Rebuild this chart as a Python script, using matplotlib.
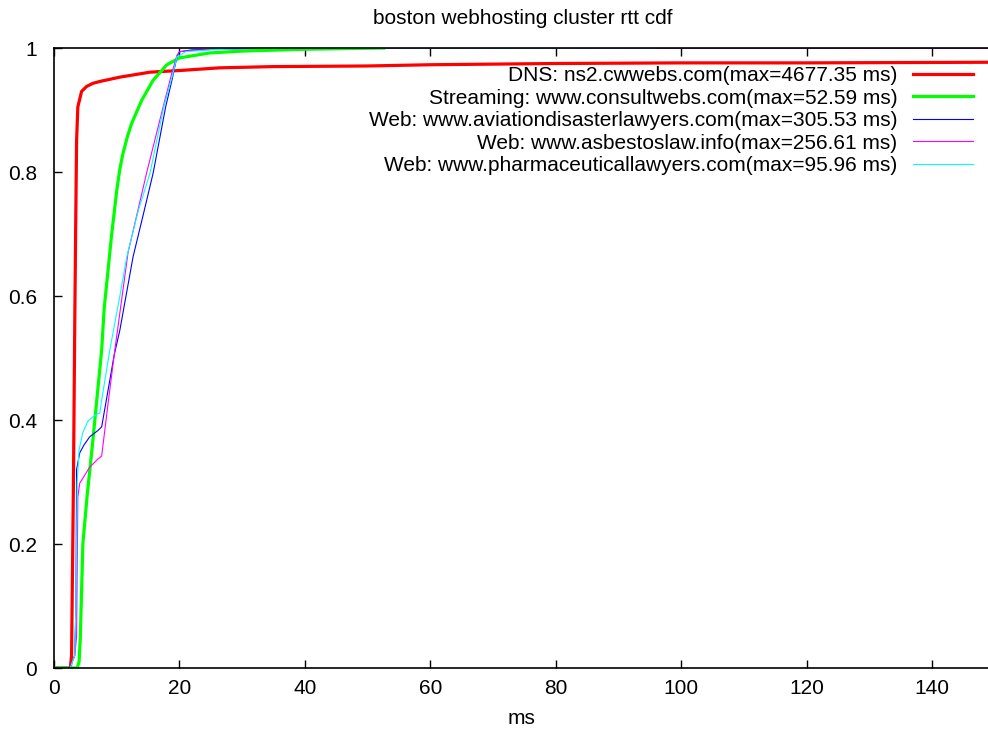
import numpy as np
import matplotlib
matplotlib.use('Agg')
import matplotlib.pyplot as plt

plt.rcParams['font.family'] = ['Liberation Sans', 'DejaVu Sans']

# DNS: ns2.cwwebs.com
dns_x = [0, 2.6, 2.8, 3.1, 3.3, 3.45, 3.6, 3.8, 4.4, 5.2, 6.2, 7.3, 10.5, 15.3, 20.5, 26.4,
         35, 50, 60, 80, 100, 120, 148.9]
dns_y = [0, 0, 0.02, 0.3, 0.545, 0.706, 0.85, 0.905, 0.93, 0.938, 0.943, 0.946, 0.953, 0.961,
         0.964, 0.968, 0.970, 0.971, 0.973, 0.975, 0.976, 0.976, 0.977]

# Streaming: www.consultwebs.com
str_x = [0, 3.7, 4.0, 4.2, 4.6, 5.3, 6.05, 6.8, 7.6, 8.0, 8.6, 9.2, 10.0, 10.5, 11.0, 11.7,
         12.4, 14.0, 15.8, 18.0, 20.0, 24.8, 30, 40, 52.59]
str_y = [0, 0, 0.01, 0.05, 0.2, 0.28, 0.352, 0.43, 0.513, 0.58, 0.64, 0.7, 0.77, 0.805, 0.83,
         0.857, 0.879, 0.916, 0.948, 0.973, 0.984, 0.992, 0.995, 0.998, 1.0]

# Web: www.aviationdisasterlawyers.com
avi_x = [0, 2.5, 3.3, 3.5, 3.6, 4.1, 4.8, 5.7, 7.0, 7.6, 9.6, 10.5, 12.6, 14.2, 15.8, 17.8,
         18.8, 19.6, 20, 22, 26, 30, 40, 60, 148.9]
avi_y = [0, 0, 0.02, 0.1, 0.32, 0.347, 0.36, 0.373, 0.383, 0.389, 0.505, 0.545, 0.663, 0.73,
         0.798, 0.905, 0.948, 0.986, 0.994, 0.997, 0.998, 0.999, 1.0, 1.0, 1.0]

# Web: www.asbestoslaw.info
asb_x = [0, 2.5, 3.3, 3.6, 3.8, 4.1, 5.7, 7.0, 7.6, 8.6, 9.7, 11.8, 14.8, 17.4, 18.8, 19.6,
         20, 22, 26, 30, 40, 60, 148.9]
asb_y = [0, 0, 0.02, 0.05, 0.276, 0.298, 0.324, 0.337, 0.342, 0.425, 0.513, 0.67, 0.8, 0.905,
         0.96, 0.988, 0.994, 0.996, 0.998, 0.999, 1.0, 1.0, 1.0]

# Web: www.pharmaceuticallawyers.com
pha_x = [0, 2.6, 3.3, 3.5, 3.7, 4.0, 4.6, 5.4, 6.2, 7.0, 7.3, 7.6, 8.9, 10.5, 11.6, 13.5,
         15.3, 17.5, 19.0, 19.6, 21, 25, 30, 40, 95.96]
pha_y = [0, 0, 0.02, 0.1, 0.3, 0.352, 0.38, 0.398, 0.405, 0.41, 0.411, 0.432, 0.513, 0.6,
         0.663, 0.74, 0.798, 0.905, 0.96, 0.986, 0.994, 0.997, 0.999, 1.0, 1.0]

labels = ['DNS: ns2.cwwebs.com(max=4677.35 ms)',
          'Streaming: www.consultwebs.com(max=52.59 ms)',
          'Web: www.aviationdisasterlawyers.com(max=305.53 ms)',
          'Web: www.asbestoslaw.info(max=256.61 ms)',
          'Web: www.pharmaceuticallawyers.com(max=95.96 ms)']

fig = plt.figure(figsize=(9.88, 7.34), dpi=100)
ax = fig.add_axes([54 / 988, 66 / 734, 1 - 54 / 988, 620 / 734])

ax.plot(dns_x, dns_y, color='#ff0000', lw=2.3, label=labels[0])
ax.plot(str_x, str_y, color='#00ff00', lw=2.3, label=labels[1])
ax.plot(avi_x, avi_y, color='#0000ff', lw=0.8, label=labels[2])
ax.plot(asb_x, asb_y, color='#ff00ff', lw=0.8, label=labels[3])
ax.plot(pha_x, pha_y, color='#00ffff', lw=0.8, label=labels[4])

ax.set_xlim(0, 148.9)
ax.set_ylim(0, 1)
ax.set_xticks(np.arange(0, 141, 20))
ax.set_yticks([0, 0.2, 0.4, 0.6, 0.8, 1.0])
ax.set_yticklabels(['0', '0.2', '0.4', '0.6', '0.8', '1'])
ax.tick_params(direction='in', length=6, width=1, labelsize=15, top=True, right=False)
ax.tick_params(axis='x', pad=8)
ax.tick_params(axis='y', pad=12)
ax.spines['right'].set_visible(False)
for s in ['left', 'bottom', 'top']:
    ax.spines[s].set_linewidth(1.2)

fig.text(523 / 988, 1 - 19 / 734, 'boston webhosting cluster rtt cdf', fontsize=15,
         ha='center', va='center')
fig.text(521 / 988, 1 - 719 / 734, 'ms', fontsize=15, ha='center', va='center')

ax.legend(loc='upper right', bbox_to_anchor=((973 - 54) / 934, (668 - 66) / 620),
          frameon=False, markerfirst=False, fontsize=15, handlelength=2.9,
          handletextpad=0.72, labelspacing=0.17, borderaxespad=0, borderpad=0)

plt.savefig('out.png', dpi=100)
